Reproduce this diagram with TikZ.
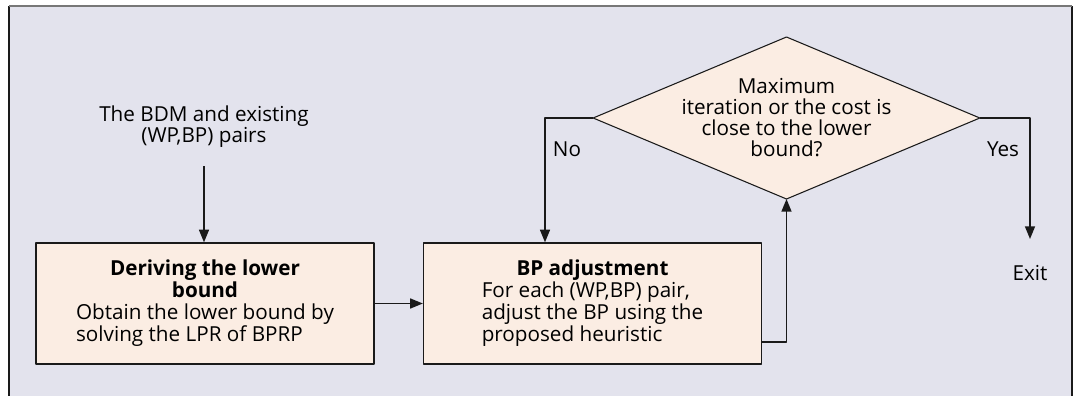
\documentclass[tikz,border=0pt]{standalone}
\usepackage{fontspec}
\setmainfont{Open Sans}
\usetikzlibrary{shapes.geometric,arrows.meta}
\providecommand{\Panel}{E3E3ED}
\providecommand{\Peach}{FBEDE3}
\providecommand{\Rim}{777777}
\newcommand{\Unit}{0.75pt}
\newcommand{\Edge}{1.0pt}
\newcommand{\Flow}{1.1pt}
\definecolor{panel}{HTML}{\Panel}
\definecolor{peach}{HTML}{\Peach}
\definecolor{rim}{HTML}{\Rim}
\definecolor{ink}{HTML}{1A1A1A}
\newcommand{\Head}[1]{\multicolumn{1}{@{}c@{}}{\bfseries #1}}

\begin{document}
\begin{tikzpicture}[x=\Unit,y=-\Unit, line join=round,
    font=\fontsize{15.5}{15.75}\selectfont,
    stage/.style={draw=ink, fill=peach, line width=\Edge, inner sep=0pt,
      minimum width=253.5pt, minimum height=90.75pt},
    decide/.style={diamond, draw=ink, fill=peach, line width=0.8pt,
      inner sep=0pt, outer sep=0pt, minimum width=290pt, minimum height=121.5pt},
    flow/.style={ink, line width=\Flow, -{Triangle[length=9.5pt,width=7.5pt]}}]

  \useasboundingbox (0,0) rectangle (1075,396);

  % ---- the panel ----------------------------------------------------------
  \fill[panel] (9,6) rectangle (1072,400);
  \draw[ink,line width=0.8pt] (9,400) -- (9,6);
  \draw[ink,line width=1.4pt] (1072,6) -- (1072,400);
  \draw[rim,line width=1.6pt] (9,6) -- (1072,6);

  % ---- input and the two stages -------------------------------------------
  \node[align=center] (inp) at (204,127) {The BDM and existing\\(WP,BP) pairs};
  \node[stage] (lb) at (205,303.5) {\begin{tabular}{@{}l@{}}
      \Head{Deriving the lower}\\ \Head{bound}\\
      Obtain the lower bound by\\ solving the LPR of BPRP\end{tabular}};
  \node[stage] (adj) at (592.5,303.5) {\begin{tabular}{@{}l@{}}
      \Head{BP adjustment}\\ For each (WP,BP) pair,\\
      adjust the BP using the\\ proposed heuristic\end{tabular}};

  % ---- the test -----------------------------------------------------------
  \node[decide] (dec) at (786.5,118) {};
  \node[align=center] (ask) at (dec) {Maximum\\iteration or the cost is\\close to the lower\\bound?};
  \node (no) at (567,149) {No};
  \node (yes) at (1003,149) {Yes};
  \node (exit) at (1030,273) {Exit};

  \coordinate (inpfoot) at (204,166);
  \coordinate (nocorner) at (545,118);
  \coordinate (yescorner) at (1030,118);
  \coordinate (exittop) at (1030,239);

  % ---- connectors ---------------------------------------------------------
  \draw[flow] (inpfoot) -- (inpfoot |- lb.north);
  \draw[flow] (lb) -- (adj);
  \draw[flow] (dec.west) -- (nocorner) -- (nocorner |- adj.north);
  \draw[flow] ([yshift=-29pt]adj.east) -| (dec.south);
  \draw[flow] (dec.east) -- (yescorner) -- (exittop);

\end{tikzpicture}
\end{document}
